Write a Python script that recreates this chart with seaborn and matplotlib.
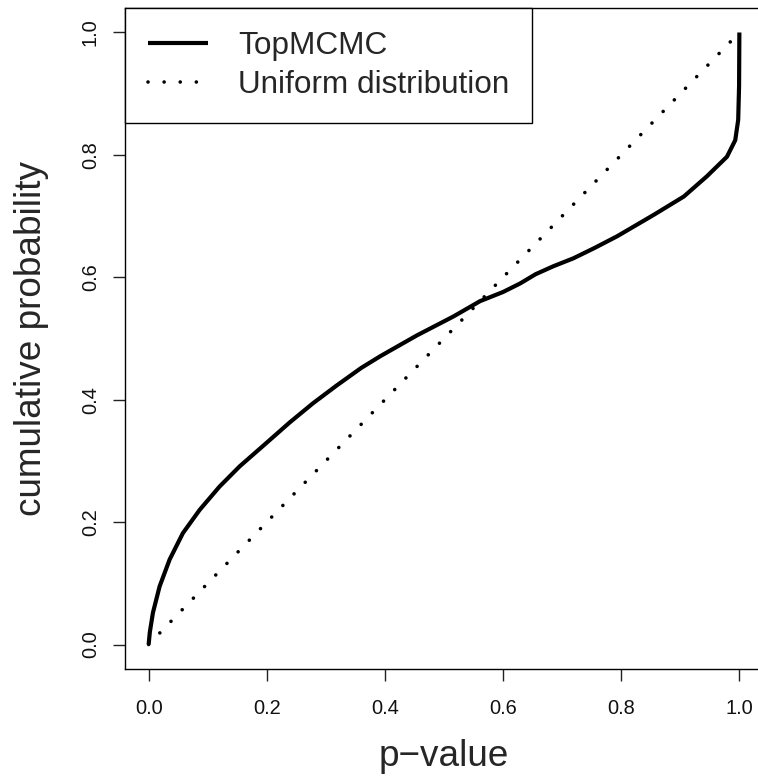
import matplotlib
matplotlib.use("Agg")
import matplotlib.pyplot as plt
import seaborn as sns
import pandas as pd

# ---- data ----
topmcmc_p = [0.0, 0.002, 0.0073, 0.0186, 0.0356, 0.058, 0.0864, 0.120, 0.154, 0.199,
             0.239, 0.278, 0.318, 0.360, 0.392, 0.454, 0.516, 0.561, 0.600, 0.629,
             0.655, 0.685, 0.719, 0.755, 0.793, 0.855, 0.906, 0.945, 0.979, 0.993,
             0.998, 0.9995, 1.0]
topmcmc_cdf = [0.0, 0.02, 0.052, 0.095, 0.139, 0.182, 0.220, 0.258, 0.291, 0.329,
               0.363, 0.394, 0.423, 0.452, 0.471, 0.505, 0.536, 0.561, 0.576, 0.590,
               0.605, 0.618, 0.631, 0.648, 0.667, 0.702, 0.732, 0.765, 0.797, 0.824,
               0.857, 0.912, 1.0]
uniform_p = [0.0, 1.0]
uniform_cdf = [0.0, 1.0]
series_labels = ["TopMCMC", "Uniform distribution"]
x_ticks = [0.0, 0.2, 0.4, 0.6, 0.8, 1.0]
y_ticks = [0.0, 0.2, 0.4, 0.6, 0.8, 1.0]
x_label = "p\u2212value"
y_label = "cumulative probability"

sns.set_style("white")
plt.rcParams["font.family"] = ["Liberation Sans", "DejaVu Sans"]

fig = plt.figure(figsize=(7.58, 7.79), dpi=100)
ax = fig.add_axes([125 / 758, 110 / 779, 638 / 758, 661 / 779])

df_top = pd.DataFrame({"p": topmcmc_p, "cdf": topmcmc_cdf})
df_uni = pd.DataFrame({"p": uniform_p, "cdf": uniform_cdf})

sns.lineplot(data=df_uni, x="p", y="cdf", ax=ax, color="black", linewidth=2.6,
             estimator=None, sort=False)
sns.lineplot(data=df_top, x="p", y="cdf", ax=ax, color="black", linewidth=3.0,
             estimator=None, sort=False)

uni_line, top_line = ax.lines[0], ax.lines[1]
uni_line.set_linestyle((0, (0.01, 4.45)))
uni_line.set_dash_capstyle("round")
top_line.set_solid_capstyle("butt")
top_line.set_solid_joinstyle("round")

ax.set_xlim(-0.04, 1.04)
ax.set_ylim(-0.04, 1.04)
ax.set_xticks(x_ticks)
ax.set_yticks(y_ticks)
ax.set_xticklabels([f"{v:.1f}" for v in x_ticks])
ax.set_yticklabels([f"{v:.1f}" for v in y_ticks], rotation=90, va="center")

for s in ax.spines.values():
    s.set_visible(True)
    s.set_color("black")
    s.set_linewidth(1.0)

ax.tick_params(axis="both", direction="out", length=8.6, width=1.0, color="#222222",
               labelsize=14.4, labelcolor="#111111", bottom=True, left=True,
               top=False, right=False)
ax.tick_params(axis="x", pad=13)
ax.tick_params(axis="y", pad=9.5)

ax.set_xlabel(x_label, fontsize=26.6, labelpad=15)
ax.set_ylabel(y_label, fontsize=26.6, labelpad=23)

leg = ax.legend([top_line, uni_line], series_labels, loc="upper left",
                bbox_to_anchor=(0.0, 0.5, (532 - 125) / 638, 0.5), mode="expand",
                borderaxespad=0, frameon=True, fancybox=False, edgecolor="black",
                framealpha=1, fontsize=22.7, handlelength=1.9, handletextpad=0.95,
                borderpad=0.74, labelspacing=0.27)
leg.get_frame().set_linewidth(1.0)

fig.savefig("out.png", dpi=100)
